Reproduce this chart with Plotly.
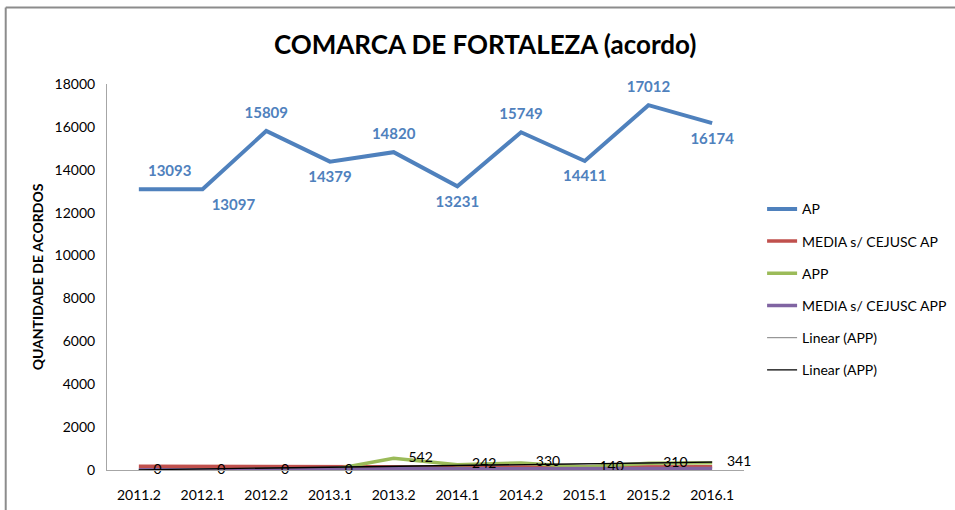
import numpy as np
import plotly.graph_objects as go

# Semesters and agreement counts
periods = ["2011.2", "2012.1", "2012.2", "2013.1", "2013.2",
           "2014.1", "2014.2", "2015.1", "2015.2", "2016.1"]
ap = [13093, 13097, 15809, 14379, 14820, 13231, 15749, 14411, 17012, 16174]
media_ap = [175, 165, 160, 135, 120, 130, 140, 140, 150, 150]
app = [0, 0, 0, 0, 542, 242, 330, 140, 310, 341]
media_app = [10, 10, 15, 20, 55, 50, 60, 55, 70, 75]

y_ticks = list(range(0, 18001, 2000))

# Where each AP value label sits relative to its point
ap_label_pos = ["top right", "bottom right", "top center", "bottom center", "top center",
                "bottom center", "top center", "bottom center", "top center", "bottom center"]

# Linear trend of APP
idx = np.arange(1, len(app) + 1)
slope, intercept = np.polyfit(idx, app, 1)
app_trend = [float(v) for v in slope * idx + intercept]

BLUE = "#4F81BD"
RED = "#C0504D"
GREEN = "#9BBB59"
PURPLE = "#8064A2"
FONT = "Lato"

fig = go.Figure()
fig.add_trace(go.Scatter(x=periods, y=ap, mode="lines", name="AP",
                         line=dict(color=BLUE, width=4), legendgroup="a"))
fig.add_trace(go.Scatter(x=periods, y=media_ap, mode="lines", name="MEDIA s/ CEJUSC AP",
                         line=dict(color=RED, width=3.5), legendgroup="b"))
fig.add_trace(go.Scatter(x=periods, y=app, mode="lines", name="APP",
                         line=dict(color=GREEN, width=3.5), legendgroup="c"))
fig.add_trace(go.Scatter(x=periods, y=media_app, mode="lines", name="MEDIA s/ CEJUSC APP",
                         line=dict(color=PURPLE, width=3.5), legendgroup="d"))
fig.add_trace(go.Scatter(x=periods, y=app_trend, mode="lines", name="Linear (APP)",
                         line=dict(color="#7F7F7F", width=1), legendgroup="e"))
fig.add_trace(go.Scatter(x=periods, y=app_trend, mode="lines", name="Linear (APP)",
                         line=dict(color="#000000", width=1.3), legendgroup="f"))

# AP value labels (invisible markers set the gap between point and text)
fig.add_trace(go.Scatter(x=periods, y=ap, mode="markers+text",
                         text=["<b>%d</b>" % v for v in ap], textposition=ap_label_pos,
                         marker=dict(size=13, opacity=0), showlegend=False, hoverinfo="skip",
                         textfont=dict(family=FONT, size=15, color=BLUE), cliponaxis=False))
# APP value labels, to the right of each point
fig.add_trace(go.Scatter(x=periods, y=app, mode="markers+text", text=["%d" % v for v in app],
                         textposition="middle right",
                         marker=dict(size=22, opacity=0), showlegend=False, hoverinfo="skip",
                         textfont=dict(family=FONT, size=14, color="#000000"),
                         cliponaxis=False))

fig.update_layout(
    width=955, height=510,
    margin=dict(l=107, r=211, t=84, b=40),
    paper_bgcolor="white", plot_bgcolor="white",
    font=dict(family=FONT, color="#404040"),
    title=dict(text="<b>COMARCA DE FORTALEZA (acordo)</b>",
               x=0.508, xanchor="center", y=0.912, yanchor="middle",
               font=dict(family=FONT, size=26, color="#000000")),
    showlegend=True,
    legend=dict(xref="container", yref="container", x=0.798, y=0.621,
                xanchor="left", yanchor="top", tracegroupgap=11,
                font=dict(family=FONT, size=14, color="#000000"),
                bgcolor="rgba(0,0,0,0)"),
    shapes=[
        dict(type="line", xref="paper", yref="paper", x0=-0.159, x1=1.4,
             y0=1.198, y1=1.198, line=dict(color="#8C8C8C", width=2)),
        dict(type="line", xref="paper", yref="paper", x0=-0.159, x1=-0.159,
             y0=1.198, y1=-0.2, line=dict(color="#8C8C8C", width=2)),
    ],
)
fig.update_xaxes(type="category", range=[-0.5, 9.5], showline=True,
                 linecolor="#A6A6A6", linewidth=1, showgrid=False, ticks="",
                 ticklabelstandoff=12, automargin=False,
                 tickfont=dict(family=FONT, size=14, color="#000000"))
fig.update_yaxes(range=[0, 18000], tickvals=y_ticks, tickformat="d", showline=True,
                 linecolor="#A6A6A6", linewidth=1, showgrid=False, zeroline=False,
                 ticks="", ticklabelstandoff=8,
                 tickfont=dict(family=FONT, size=14, color="#000000"),
                 title=dict(text="<b>QUANTIDADE DE ACORDOS</b>", standoff=7,
                            font=dict(family=FONT, size=14, color="#000000")))

fig.write_html("out.html")
